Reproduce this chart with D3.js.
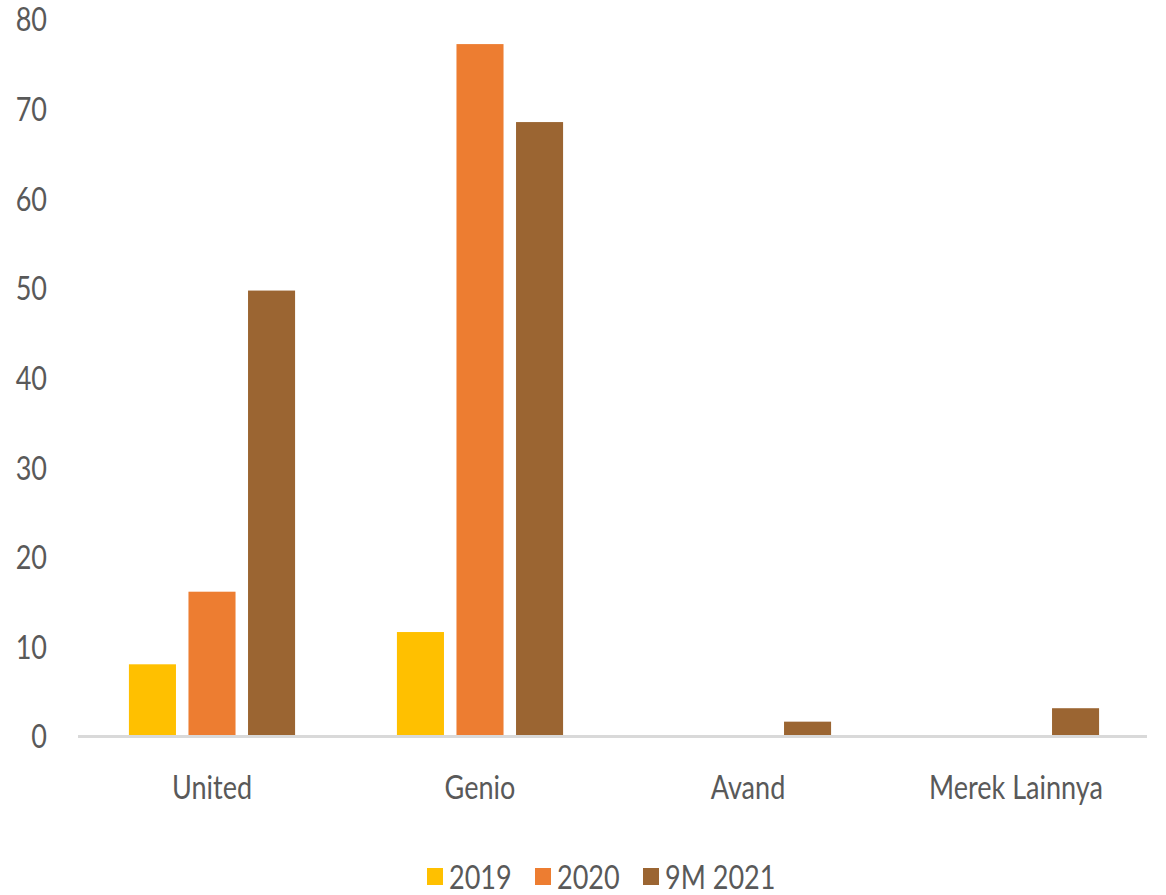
<!DOCTYPE html>
<html>
<head>
<meta charset="utf-8">
<script src="https://cdn.jsdelivr.net/npm/d3@7"></script>
<style>
  html, body { margin: 0; padding: 0; background: #fff; }
  svg text { font-family: Lato, "Liberation Sans", sans-serif; fill: #595959; }
</style>
</head>
<body>
<svg id="chart" width="1166" height="895"></svg>
<script>
const categories = ["United", "Genio", "Avand", "Merek Lainnya"];
const seriesNames = ["2019", "2020", "9M 2021"];
const values2019 = [8.0, 11.6, 0, 0];
const values2020 = [16.1, 77.2, 0, 0];
const values9M2021 = [49.7, 68.5, 1.6, 3.1];
const yTicks = [0, 10, 20, 30, 40, 50, 60, 70, 80];
const colors = ["#FFC000", "#ED7D31", "#9B6532"];

const seriesValues = [values2019, values2020, values9M2021];
const SX = 0.82;

const svg = d3.select("#chart");
const x0 = d3.scaleBand().domain(categories).range([78, 1150]).paddingInner(0.38).paddingOuter(0.19);
const x1 = d3.scaleBand().domain(seriesNames).range([0, x0.bandwidth()]).paddingInner(0.21).paddingOuter(0);
const y = d3.scaleLinear().domain([0, 80]).range([736, 19]);

// y tick labels
const yAxis = d3.axisLeft(y).tickValues(yTicks).tickSize(0).tickPadding(0);
const yg = svg.append("g").attr("transform", "translate(47,0)").call(yAxis);
yg.select(".domain").remove();
yg.selectAll("text").style("font-size", "33px").attr("x", 0).attr("dy", "0.36em")
  .attr("fill", "#595959").attr("transform", `scale(${SX},1)`);

// bars
categories.forEach((c, ci) => {
  const g = svg.append("g").attr("transform", `translate(${x0(c)},0)`);
  seriesNames.forEach((s, si) => {
    const v = seriesValues[si][ci];
    if (v <= 0) return;
    g.append("rect")
      .attr("x", x1(s))
      .attr("y", y(v))
      .attr("width", x1.bandwidth())
      .attr("height", y(0) - y(v))
      .attr("fill", colors[si]);
  });
});

// x axis line
svg.append("line")
  .attr("x1", 78).attr("x2", 1147)
  .attr("y1", y(0) + 0.5).attr("y2", y(0) + 0.5)
  .attr("stroke", "#D9D9D9").attr("stroke-width", 3);

// category labels
const xAxis = d3.axisBottom(x0).tickSize(0).tickPadding(0);
const xg = svg.append("g").attr("transform", "translate(0,799)").call(xAxis);
xg.select(".domain").remove();
xg.selectAll("text").style("font-size", "33px").attr("y", 0).attr("dy", "0")
  .attr("fill", "#595959").attr("transform", `scale(${SX},1)`);

// legend
const legendItems = [
  { name: seriesNames[0], sx: 427, tx: 449 },
  { name: seriesNames[1], sx: 535, tx: 557 },
  { name: seriesNames[2], sx: 643, tx: 665 }
];
const lg = svg.append("g");
legendItems.forEach((it, i) => {
  lg.append("rect").attr("x", it.sx).attr("y", 868).attr("width", 16).attr("height", 17).attr("fill", colors[i]);
  lg.append("g").attr("transform", `translate(${it.tx},889)`)
    .append("text").attr("transform", `scale(${SX},1)`).style("font-size", "33px").text(it.name);
});
</script>
</body>
</html>
